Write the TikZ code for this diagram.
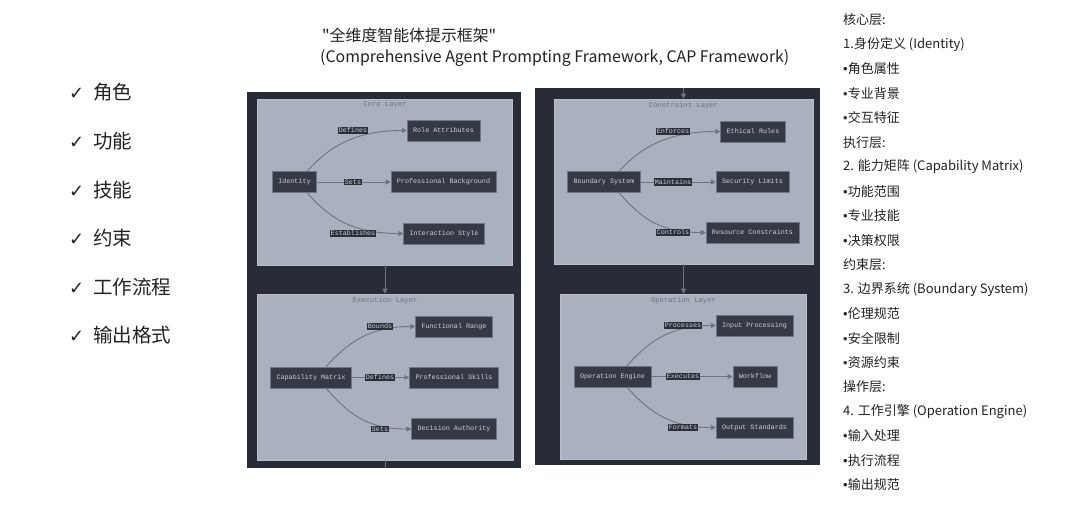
\documentclass[tikz,border=0pt]{standalone}
\usepackage{fontspec}
\setmainfont{Noto Sans CJK SC}
\newfontfamily\symfont{DejaVu Sans}
\newfontfamily\dotfont{Liberation Sans}
\newfontfamily\diagfont{Liberation Mono}
\usetikzlibrary{arrows.meta, positioning}

\definecolor{paneldark}{HTML}{282C36}
\definecolor{layerfill}{HTML}{A9B0BE}
\definecolor{layerline}{HTML}{B8BECA}
\definecolor{nodefill}{HTML}{343945}
\definecolor{nodeline}{HTML}{6E7585}
\definecolor{nodetext}{HTML}{CDD1D9}
\definecolor{tagfill}{HTML}{2B2F3A}
\definecolor{linkgray}{HTML}{6C7484}
\definecolor{titlegray}{HTML}{6B7383}
\definecolor{textblack}{HTML}{222222}

\pgfdeclarelayer{background}
\pgfdeclarelayer{edges}
\pgfsetlayers{background,edges,main}

\newcommand{\dotitem}{{\dotfont •}}
\newcommand{\tickmark}{\makebox[24pt][l]{\symfont\fontsize{18}{20}\selectfont ✓}}

\tikzset{
  layerbox/.style={rectangle, fill=layerfill, draw=layerline, line width=0.6pt, inner sep=0pt},
  layertitle/.style={text=titlegray, inner sep=1pt, font=\diagfont\fontsize{7.2}{8}\selectfont},
  item/.style={rectangle, fill=nodefill, draw=nodeline, line width=0.5pt, text=nodetext,
    minimum height=21pt, inner xsep=6pt, inner ysep=0pt, font=\diagfont\fontsize{6.75}{8}\selectfont},
  tag/.style={rectangle, fill=tagfill, text=nodetext, inner xsep=1pt, inner ysep=1.2pt,
    font=\diagfont\fontsize{6.75}{8}\selectfont},
  link/.style={draw=linkgray, line width=0.9pt, -{Triangle[length=5pt,width=5pt]}},
  stub/.style={draw=linkgray, line width=0.9pt},
  tick/.style={anchor=west, inner sep=0pt, text=textblack, font=\fontsize{19.5}{22}\selectfont},
  note/.style={anchor=west, inner sep=0pt, text=textblack, font=\fontsize{13}{16}\selectfont},
  headline/.style={anchor=west, inner sep=0pt, text=textblack, font=\fontsize{15.9}{19}\selectfont}
}

\begin{document}
\begin{tikzpicture}[x=1pt, y=-1pt]
  \useasboundingbox (0,0) rectangle (1080,512);

  % title
  \node[headline] (head1) at (322,35) {\textquotedbl 全维度智能体提示框架\textquotedbl};
  \node[headline] (head2) at (320,58) {(Comprehensive Agent Prompting Framework, CAP Framework)};

  % check list
  \node[tick] (t1) at (69,92) {\tickmark 角色};
  \node[tick] (t2) at (69,141) {\tickmark 功能};
  \node[tick] (t3) at (69,190) {\tickmark 技能};
  \node[tick] (t4) at (69,238) {\tickmark 约束};
  \node[tick] (t5) at (69,287) {\tickmark 工作流程};
  \node[tick] (t6) at (69,335) {\tickmark 输出格式};

  % panels and layers
  \begin{pgfonlayer}{background}
    \fill[white] (0,0) rectangle (1080,512);
    \fill[paneldark] (247,92) rectangle (521,468);
    \fill[paneldark] (535,88) rectangle (820,465);
    \node[layerbox, minimum width=255pt, minimum height=166pt] (core) at (385,182) {};
    \node[layerbox, minimum width=256pt, minimum height=166pt] (exec) at (385,377) {};
    \node[layerbox, minimum width=259pt, minimum height=165pt] (cons) at (683.5,181.5) {};
    \node[layerbox, minimum width=246pt, minimum height=165pt] (oper) at (683.5,376.5) {};
  \end{pgfonlayer}
  \coordinate (lfoot) at (385,468);
  \coordinate (rhead) at (683.5,88);

  \node[layertitle, below=2pt of core.north] (coreT) {Core Layer};
  \node[layertitle, below=2pt of exec.north] (execT) {Execution Layer};
  \node[layertitle, below=2pt of cons.north] (consT) {Constraint Layer};
  \node[layertitle, below=2pt of oper.north] (operT) {Operation Layer};

  % core layer
  \node[item] (id) at (294.5,182) {Identity};
  \node[item] (ra) at (443.5,130.5) {Role Attributes};
  \node[item] (pb) at (443.5,182) {Professional Background};
  \node[item] (is) at (444,233.5) {Interaction Style};
  \node[tag] (defA) at (353,130.5) {Defines};
  \node[tag] (setA) at (353,182) {Sets};
  \node[tag] (estA) at (353,233.5) {Establishes};

  % execution layer
  \node[item] (cm) at (311,377.5) {Capability Matrix};
  \node[item] (fr) at (454,326.5) {Functional Range};
  \node[item] (ps) at (454,377.5) {Professional Skills};
  \node[item] (da) at (454,429) {Decision Authority};
  \node[tag] (bndB) at (380,326.5) {Bounds};
  \node[tag] (defB) at (380,377.5) {Defines};
  \node[tag] (setB) at (380,429) {Sets};

  % constraint layer
  \node[item] (bs) at (604,182) {Boundary System};
  \node[item] (er) at (753,131.5) {Ethical Rules};
  \node[item] (sl) at (752.5,182) {Security Limits};
  \node[item] (rc) at (752.5,232.5) {Resource Constraints};
  \node[tag] (enfC) at (673,131.5) {Enforces};
  \node[tag] (mntC) at (673,182) {Maintains};
  \node[tag] (ctlC) at (673,232.5) {Controls};

  % operation layer
  \node[item] (oe) at (612.5,376.5) {Operation Engine};
  \node[item] (ip) at (754.5,325.5) {Input Processing};
  \node[item] (wf) at (755,376.5) {Workflow};
  \node[item] (os) at (754.5,427.5) {Output Standards};
  \node[tag] (prcD) at (683,325.5) {Processes};
  \node[tag] (exeD) at (683,376.5) {Executes};
  \node[tag] (fmtD) at (683,427.5) {Formats};

  % connectors
  \begin{pgfonlayer}{edges}
    \draw[link] (core) -- (exec);
    \draw[stub] (exec) -- (lfoot);
    \draw[link] (rhead) -- (cons);
    \draw[link] (cons) -- (oper);

    \draw[link] ([xshift=12.5pt]id.north) .. controls +(20,-22) and +(-55,0) .. (ra.west);
    \draw[link] (id) -- (pb);
    \draw[link] ([xshift=12.5pt]id.south) .. controls +(20,22) and +(-55,0) .. (is.west);

    \draw[link] ([xshift=15pt]cm.north) .. controls +(20,-22) and +(-48,0) .. (fr.west);
    \draw[link] (cm) -- (ps);
    \draw[link] ([xshift=15pt]cm.south) .. controls +(20,22) and +(-48,0) .. (da.west);

    \draw[link] ([xshift=15pt]bs.north) .. controls +(20,-22) and +(-55,0) .. (er.west);
    \draw[link] (bs) -- (sl);
    \draw[link] ([xshift=15pt]bs.south) .. controls +(20,22) and +(-50,0) .. (rc.west);

    \draw[link] ([xshift=14.5pt]oe.north) .. controls +(20,-22) and +(-48,0) .. (ip.west);
    \draw[link] (oe) -- (wf);
    \draw[link] ([xshift=14.5pt]oe.south) .. controls +(20,22) and +(-48,0) .. (os.west);
  \end{pgfonlayer}

  % layer notes
  \node[note] (n1) at (843,20) {核心层:};
  \node[note] (n2) at (843,44.5) {1.身份定义 (Identity)};
  \node[note] (n3) at (843,69) {\dotitem 角色属性};
  \node[note] (n4) at (843,93.4) {\dotitem 专业背景};
  \node[note] (n5) at (843,117.9) {\dotitem 交互特征};
  \node[note] (n6) at (843,142.4) {执行层:};
  \node[note] (n7) at (843,166.8) {2. 能力矩阵 (Capability Matrix)};
  \node[note] (n8) at (843,191.3) {\dotitem 功能范围};
  \node[note] (n9) at (843,215.8) {\dotitem 专业技能};
  \node[note] (n10) at (843,240.2) {\dotitem 决策权限};
  \node[note] (n11) at (843,264.7) {约束层:};
  \node[note] (n12) at (843,289.2) {3. 边界系统 (Boundary System)};
  \node[note] (n13) at (843,313.6) {\dotitem 伦理规范};
  \node[note] (n14) at (843,338.1) {\dotitem 安全限制};
  \node[note] (n15) at (843,362.6) {\dotitem 资源约束};
  \node[note] (n16) at (843,387) {操作层:};
  \node[note] (n17) at (843,411.5) {4. 工作引擎 (Operation Engine)};
  \node[note] (n18) at (843,436) {\dotitem 输入处理};
  \node[note] (n19) at (843,460.4) {\dotitem 执行流程};
  \node[note] (n20) at (843,484.9) {\dotitem 输出规范};
\end{tikzpicture}
\end{document}
